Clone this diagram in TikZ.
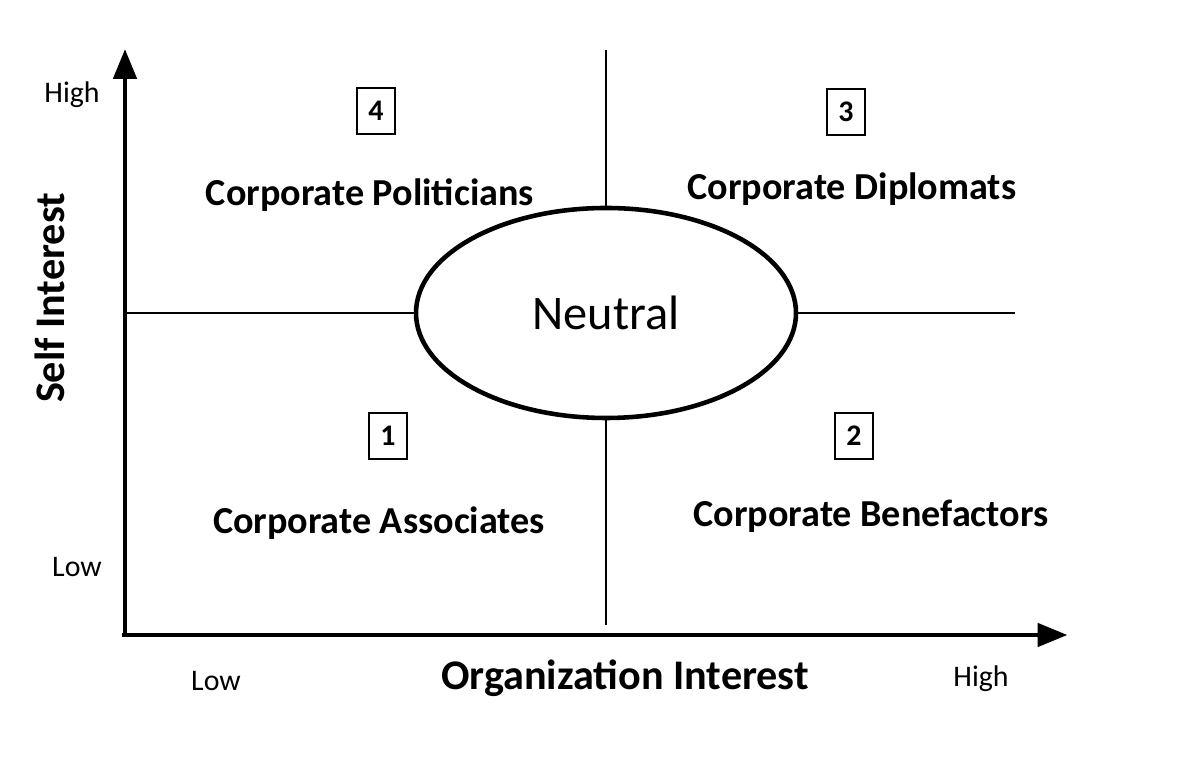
\documentclass[tikz,border=0pt]{standalone}
\usepackage{fontspec}
\setmainfont{Carlito}
\usetikzlibrary{shapes.geometric,arrows.meta}
\begin{document}
\begin{tikzpicture}[
  axis/.style={line width=2.8pt, -{Triangle[length=0.6cm,width=0.46cm]}},
  divider/.style={line width=0.6pt},
  neutral/.style={ellipse, draw, line width=2.6pt, minimum width=7.6cm,
    minimum height=4.2cm, font=\fontsize{27.5}{32}\selectfont},
  numbox/.style={rectangle, draw, line width=0.8pt, minimum width=0.76cm,
    minimum height=0.92cm, font=\fontsize{17}{20}\selectfont\bfseries},
  quadlabel/.style={font=\fontsize{21.7}{26}\selectfont\bfseries},
  axislabel/.style={font=\fontsize{24}{29}\selectfont\bfseries},
  level/.style={font=\fontsize{17}{20}\selectfont}
]
  \useasboundingbox (0,0) rectangle (24,15.28);

  % Axes
  \coordinate (origin) at (2.5, 2.58);
  \coordinate (ytip) at (2.5, 14.3);
  \coordinate (xstart) at (2.44, 2.58);
  \coordinate (xtip) at (21.35, 2.58);
  \draw[axis] (origin) -- (ytip);
  \draw[axis] (xstart) -- (xtip);

  % Centre ellipse and quadrant dividers
  \node[neutral] (neutral) at (12.12, 9.02) {Neutral};
  \coordinate (hleft) at (2.5, 9.02);
  \coordinate (hright) at (20.3, 9.02);
  \coordinate (vtop) at (12.12, 14.28);
  \coordinate (vbottom) at (12.12, 2.78);
  \draw[divider] (hleft) -- (neutral.west);
  \draw[divider] (neutral.east) -- (hright);
  \draw[divider] (vtop) -- (neutral.north);
  \draw[divider] (neutral.south) -- (vbottom);

  % Quadrant numbers
  \node[numbox] (n4) at (7.52, 13.06) {4};
  \node[numbox] (n3) at (16.92, 13.04) {3};
  \node[numbox] (n1) at (7.76, 6.56) {1};
  \node[numbox] (n2) at (17.08, 6.56) {2};

  % Quadrant labels
  \node[quadlabel] (politicians) at (7.4, 11.38) {Corporate Politicians};
  \node[quadlabel] (diplomats) at (17.04, 11.5) {Corporate Diplomats};
  \node[quadlabel] (associates) at (7.58, 4.82) {Corporate Associates};
  \node[quadlabel] (benefactors) at (17.42, 4.96) {Corporate Benefactors};

  % Axis labels
  \node[axislabel, rotate=90] (self) at (1.0, 9.32) {Self Interest};
  \node[axislabel] (org) at (12.5, 1.72) {Organization Interest};
  \node[level] (yhigh) at (1.44, 13.38) {High};
  \node[level] (ylow) at (1.54, 3.94) {Low};
  \node[level] (xlow) at (4.32, 1.66) {Low};
  \node[level] (xhigh) at (19.62, 1.70) {High};
\end{tikzpicture}
\end{document}
